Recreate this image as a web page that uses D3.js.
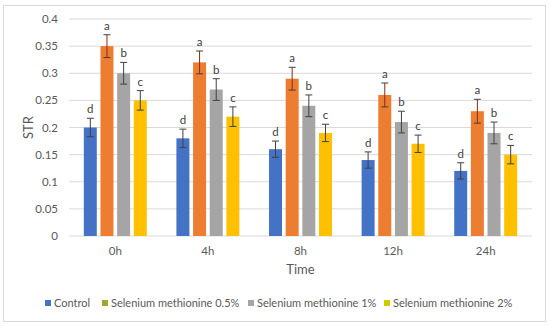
<!DOCTYPE html>
<html>
<head>
<meta charset="utf-8">
<script src="https://d3js.org/d3.v7.min.js"></script>
<style>
  body { margin: 0; background: #fff; }
  text { font-family: Lato, "Open Sans", sans-serif; }
</style>
</head>
<body>
<div id="chart"></div>
<script>
// chart data
const times = ["0h", "4h", "8h", "12h", "24h"];
const series = ["Control", "Selenium methionine 0.5%", "Selenium methionine 1%", "Selenium methionine 2%"];
const control = [0.20, 0.18, 0.16, 0.14, 0.12];
const sm05 = [0.35, 0.32, 0.29, 0.26, 0.23];
const sm1 = [0.30, 0.27, 0.24, 0.21, 0.19];
const sm2 = [0.25, 0.22, 0.19, 0.17, 0.15];
const errControl = [0.017, 0.017, 0.015, 0.015, 0.015];
const err05 = [0.021, 0.021, 0.021, 0.022, 0.022];
const err1 = [0.02, 0.02, 0.02, 0.02, 0.02];
const err2 = [0.018, 0.018, 0.016, 0.016, 0.017];
const letters = ["d", "a", "b", "c"];
const yTicks = [0, 0.05, 0.1, 0.15, 0.2, 0.25, 0.3, 0.35, 0.4];

const values = [control, sm05, sm1, sm2];
const errs = [errControl, err05, err1, err2];
const barColors = ["#4472C4", "#ED7D31", "#A5A5A5", "#FFC000"];
const legendColors = ["#4472C4", "#A5A52A", "#A5A5A5", "#CCCC00"];

const W = 550, H = 326;
const margin = {top: 19, right: 18, bottom: 90, left: 69};
const width = W - margin.left - margin.right;
const height = H - margin.top - margin.bottom;

const svg = d3.select("#chart").append("svg")
  .attr("width", W).attr("height", H);

// outer frame
svg.append("rect")
  .attr("x", 3.5).attr("y", 5.5)
  .attr("width", 542).attr("height", 316)
  .attr("fill", "#fff")
  .attr("stroke", "#d9d9d9");

const g = svg.append("g")
  .attr("transform", "translate(" + margin.left + "," + margin.top + ")");

const x0 = d3.scaleBand().domain(times).range([0, width]);
const x1 = d3.scaleBand().domain(d3.range(4))
  .range([x0.bandwidth() * 0.16, x0.bandwidth() * 0.84])
  .paddingInner(0.22);
const y = d3.scaleLinear().domain([0, 0.4]).range([height, 0]);

// grid
g.selectAll(".grid").data(yTicks).enter().append("line")
  .attr("x1", 0).attr("x2", width)
  .attr("y1", d => y(d)).attr("y2", d => y(d))
  .attr("stroke", "#d9d9d9").attr("stroke-width", 1);

// y tick labels
g.selectAll(".ytick").data(yTicks).enter().append("text")
  .attr("x", -11).attr("y", d => y(d))
  .attr("dy", "0.35em")
  .attr("text-anchor", "end")
  .attr("font-size", 11.5)
  .attr("fill", "#595959")
  .text(d => d);

// bars
const rows = [];
times.forEach((t, i) => {
  values.forEach((s, j) => {
    rows.push({t: t, j: j, v: s[i], e: errs[j][i]});
  });
});

g.selectAll(".bar").data(rows).enter().append("rect")
  .attr("x", d => x0(d.t) + x1(d.j))
  .attr("y", d => y(d.v))
  .attr("width", x1.bandwidth())
  .attr("height", d => height - y(d.v))
  .attr("fill", d => barColors[d.j]);

// error bars
const eb = g.selectAll(".err").data(rows).enter().append("g")
  .attr("transform", d => "translate(" + (x0(d.t) + x1(d.j) + x1.bandwidth() / 2) + ",0)");
eb.append("line")
  .attr("y1", d => y(d.v - d.e)).attr("y2", d => y(d.v + d.e))
  .attr("stroke", d => d.j == 1 ? "#8B2A10" : "#404040");
eb.append("line")
  .attr("x1", -3.5).attr("x2", 3.5)
  .attr("y1", d => y(d.v + d.e)).attr("y2", d => y(d.v + d.e))
  .attr("stroke", "#404040");
eb.append("line")
  .attr("x1", -3.5).attr("x2", 3.5)
  .attr("y1", d => y(d.v - d.e)).attr("y2", d => y(d.v - d.e))
  .attr("stroke", "#404040");
eb.append("text")
  .attr("y", d => y(d.v + d.e) - 5)
  .attr("text-anchor", "middle")
  .attr("font-size", 11.5)
  .attr("fill", "#404040")
  .text(d => letters[d.j]);

// x tick labels
g.selectAll(".xtick").data(times).enter().append("text")
  .attr("x", d => x0(d) + x0.bandwidth() / 2)
  .attr("y", height + 19)
  .attr("text-anchor", "middle")
  .attr("font-size", 11.5)
  .attr("fill", "#595959")
  .text(d => d);

// axis titles
g.append("text")
  .attr("x", width / 2).attr("y", height + 38)
  .attr("text-anchor", "middle")
  .attr("font-size", 13)
  .attr("fill", "#595959")
  .text("Time");

svg.append("text")
  .attr("transform", "translate(33," + (margin.top + height / 2) + ") rotate(-90)")
  .attr("text-anchor", "middle")
  .attr("font-size", 13)
  .attr("fill", "#595959")
  .text("STR");

// legend
const legX = [45, 102, 248, 384];
const leg = svg.selectAll(".leg").data(series).enter().append("g")
  .attr("transform", (d, i) => "translate(" + legX[i] + ",307)");
leg.append("rect")
  .attr("x", 0).attr("y", -7)
  .attr("width", 6).attr("height", 6)
  .attr("fill", (d, i) => legendColors[i]);
leg.append("text")
  .attr("x", 9).attr("y", 0)
  .attr("font-size", 11)
  .attr("fill", "#595959")
  .text(d => d);
</script>
</body>
</html>
